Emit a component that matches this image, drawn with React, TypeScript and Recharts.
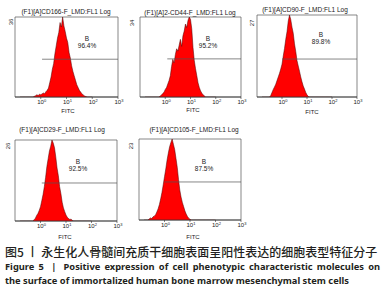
import React from 'react';
import { AreaChart, Area, XAxis, YAxis, ReferenceLine, ReferenceArea } from 'recharts';

// log10 FITC intensity, bin centres
const bins = [
  -0.8, -0.75, -0.7, -0.65, -0.6, -0.55, -0.5, -0.45, -0.4, -0.35,
  -0.3, -0.25, -0.2, -0.15, -0.1, -0.05, 0, 0.05, 0.1, 0.15,
  0.2, 0.25, 0.3, 0.35, 0.4, 0.45, 0.5, 0.55, 0.6, 0.65,
  0.7, 0.75, 0.8, 0.85, 0.9, 0.95, 1, 1.05, 1.1, 1.15,
  1.2, 1.25, 1.3, 1.35, 1.4, 1.45, 1.5, 1.55, 1.6, 1.65,
  1.7, 1.75, 1.8, 1.85, 1.9, 1.95, 2,
];

const cd166 = [
  0, 0, 0, 0, 0, 0, 0, 0, 0, 0, 0,
  0.3, 0.6, 1.0, 0.7, 1.2, 1.0,
  1.4, 1.8, 1.5, 2.4, 3.0, 4.0, 6.5, 9.0, 12.5, 15.0, 19.5, 23.0, 26.5, 29.0,
  33.5, 31.5, 36.0, 32.0, 29.5, 26.5, 24.5, 20.0, 17.5, 14.0, 11.5, 9.5, 7.5, 5.5,
  4.3, 3.0, 2.2, 1.5, 0.9, 0.5, 0.2,
  0, 0, 0, 0, 0,
];

const cd44 = [
  0, 0, 0, 0, 0, 0, 0, 0, 0, 0, 0, 0,
  0.4, 0.8, 1.5, 2.0, 3.2,
  4.0, 5.5, 7.0, 9.0, 13.0, 16.0, 14.5, 18.0, 20.5, 19.5, 22.0, 24.5, 21.5, 26.0,
  28.0, 31.0, 29.5, 32.5, 34.0, 33.0, 29.0, 21.0, 15.5, 12.0, 9.0, 6.0, 4.0, 2.6,
  1.6, 1.0, 0.4,
  0, 0, 0, 0, 0, 0, 0, 0, 0,
];

const cd90 = [
  0, 0, 0, 0, 0, 0, 0,
  0.5, 1.5, 2.5, 3.3, 4.2, 5.4, 6.6, 7.8, 9.2, 10.8,
  13.5, 16.0, 19.0, 21.5, 25.0, 27.0, 25.5, 23.0, 21.0, 17.5, 15.0, 12.0, 10.2, 8.5,
  6.6, 5.0, 3.6, 2.6, 1.5, 0.7, 0.2,
  0, 0, 0, 0, 0, 0, 0, 0, 0, 0, 0, 0, 0, 0, 0, 0, 0, 0, 0,
];

const cd29 = [
  0, 0, 0, 0, 0, 0, 0, 0, 0, 0, 0,
  0.4, 0.9, 1.8, 2.4, 3.4, 4.6,
  6.5, 8.5, 11.0, 14.0, 17.5, 20.0, 22.5, 24.0, 26.0, 25.0, 23.5, 20.5, 17.0, 14.5,
  11.0, 8.8, 6.0, 4.2, 3.0, 1.9, 1.2, 0.8, 0.5, 0.6, 0.2,
  0, 0, 0, 0, 0, 0, 0, 0, 0, 0, 0, 0, 0, 0, 0,
];

const cd105 = [
  0, 0, 0, 0,
  0.3, 0.6, 0.4, 0.9, 1.1, 1.5, 2.3, 3.2, 4.4, 6.0, 7.8, 10.0, 12.3,
  14.5, 17.0, 19.0, 20.8, 22.0, 23.0, 21.5, 20.0, 17.5, 15.0, 11.5, 8.5, 6.5, 5.0,
  3.8, 2.6, 1.7, 1.0, 0.5, 0.2,
  0, 0, 0, 0, 0, 0, 0, 0, 0, 0, 0, 0, 0, 0, 0, 0, 0, 0, 0, 0,
];

const series = [cd166, cd44, cd90, cd29, cd105];
const titles = [
  '(F1)[A]CD166-F_LMD:FL1 Log',
  '(F1)[A]2-CD44-F_LMD:FL1 Log',
  '(F1)[A]CD90-F_LMD:FL1 Log',
  '(F1)[A]CD29-F_LMD:FL1 Log',
  '(F1)[A]CD105-F_LMD:FL1 Log',
];
const percents = ['96.4%', '95.2%', '89.8%', '92.5%', '87.5%'];
const yMax = [36, 34, 27, 26, 23];
const yTicks = [[14, 36], [15, 34], [7, 20, 27], [10, 26], [10, 23]];
const gates = [17, 16.2, 12.5, 12.2, 10.8];
const gateStart = [0.05, 0.08, 0, 0.05, 0];
const xTicks = [0, 1, 2, 3];

// plot boxes (left, top, right, bottom) and text anchors, in page px
const layout = [
  { box: [15, 17, 118, 97], title: [66, 12], gate: [87, 39], fitc: [68, 111], ymax: [11, 22] },
  { box: [140, 17, 241, 97], title: [190, 13], gate: [208, 39], fitc: [193, 110], ymax: [132, 23] },
  { box: [257, 15, 357, 97], title: [305, 10], gate: [321, 35], fitc: [312, 112], ymax: [252, 23] },
  { box: [15, 140, 117, 221], title: [62, 130], gate: [78, 162], fitc: [65, 237], ymax: [8, 146] },
  { box: [139, 139, 241, 220], title: [194, 130], gate: [204, 162], fitc: [193, 237], ymax: [131, 146] },
];

const FONT = '"Liberation Sans", Arial, sans-serif';
const INK = '#222';

const LogTick = (props: any) => {
  const { x, y, payload } = props;
  return (
    <text x={x + 1} y={y} dy={5} textAnchor="middle" fontSize={6} fontFamily={FONT} fill={INK}>
      <tspan>10</tspan>
      <tspan dy={-2.5} fontSize={4}>{payload.value}</tspan>
    </text>
  );
};

const NoTick = () => <g />;

const Label = ({ x, y, children, size = 6.5, rotate = 0 }: any) => (
  <div
    style={{
      position: 'absolute', left: x, top: y,
      transform: `translate(-50%, -50%) rotate(${rotate}deg)`,
      fontFamily: FONT, fontSize: size, color: INK, whiteSpace: 'nowrap', lineHeight: 1,
    }}
  >
    {children}
  </div>
);

const Panel = ({ i }: { i: number }) => {
  const L = layout[i];
  const [x0, y0, x1, y1] = L.box;
  const padL = 12, padR = 6, padT = 6, padB = 12;
  const W = x1 - x0 + padL + padR;
  const H = y1 - y0 + padT + padB;
  const data = bins.map((b, k) => ({ x: b, n: series[i][k] }));
  const max = yMax[i];

  return (
    <>
      <div style={{ position: 'absolute', left: x0 - padL, top: y0 - padT }}>
        <AreaChart width={W} height={H} data={data} margin={{ top: padT, right: padR, bottom: 0, left: padL }}>
          <XAxis dataKey="x" type="number" domain={[-1, 3]} ticks={xTicks} interval={0} allowDataOverflow
            height={padB} tick={LogTick} tickSize={2} tickMargin={0}
            axisLine={{ stroke: '#333', strokeWidth: 0.8 }} tickLine={{ stroke: '#333', strokeWidth: 0.6 }} />
          <YAxis type="number" domain={[0, max]} ticks={yTicks[i]} interval={0} allowDataOverflow
            width={0} tick={NoTick} tickSize={2} tickMargin={0}
            axisLine={{ stroke: '#333', strokeWidth: 0.8 }} tickLine={{ stroke: '#333', strokeWidth: 0.6 }} />
          <ReferenceArea x1={-1} x2={3} y1={0} y2={max} fill="none" fillOpacity={0}
            stroke="#555" strokeWidth={0.7} />
          <Area type="linear" dataKey="n" fill="#ff0000" fillOpacity={1} stroke="#4a0000"
            strokeWidth={0.5} dot={false} activeDot={false} isAnimationActive={false} />
          <ReferenceLine segment={[{ x: gateStart[i], y: gates[i] }, { x: 3, y: gates[i] }]}
            stroke="#555" strokeWidth={0.7} />
        </AreaChart>
      </div>
      <Label x={L.title[0]} y={L.title[1]}>{titles[i]}</Label>
      <Label x={L.ymax[0]} y={L.ymax[1]} size={6} rotate={-90}>{max}</Label>
      <Label x={L.gate[0]} y={L.gate[1]}>B</Label>
      <Label x={L.gate[0]} y={L.gate[1] + 7}>{percents[i]}</Label>
      <Label x={L.fitc[0]} y={L.fitc[1]} size={6}>FITC</Label>
    </>
  );
};

const captionZh = '图5 丨 永生化人骨髓间充质干细胞表面呈阳性表达的细胞表型特征分子';
const captionEn1 = 'Positive expression of cell phenotypic characteristic molecules on';
const captionEn2 = 'the surface of immortalized human bone marrow mesenchymal stem cells';

export default function App() {
  const en: any = {
    position: 'absolute', left: 5, whiteSpace: 'nowrap', lineHeight: 1,
    fontFamily: '"Noto Sans", sans-serif', fontWeight: 700, fontSize: 9.3, color: '#231f20',
  };
  return (
    <div style={{ position: 'absolute', left: 0, top: 0, width: 385, height: 300, background: '#fff', overflow: 'hidden' }}>
      {[0, 1, 2, 3, 4].map((i) => <Panel key={i} i={i} />)}
      <div style={{ position: 'absolute', left: 5, top: 246, whiteSpace: 'nowrap', lineHeight: 1,
        fontFamily: '"Noto Sans CJK SC", sans-serif', fontSize: 12, fontWeight: 500, color: '#231f20' }}>
        {captionZh}
      </div>
      <div style={{ ...en, top: 262, width: 375, textAlign: 'justify', textAlignLast: 'justify', whiteSpace: 'normal' }}>
        Figure 5 <span style={{ margin: '0 3px' }}>|</span> {captionEn1}
      </div>
      <div style={{ ...en, top: 276 }}>{captionEn2}</div>
    </div>
  );
}
